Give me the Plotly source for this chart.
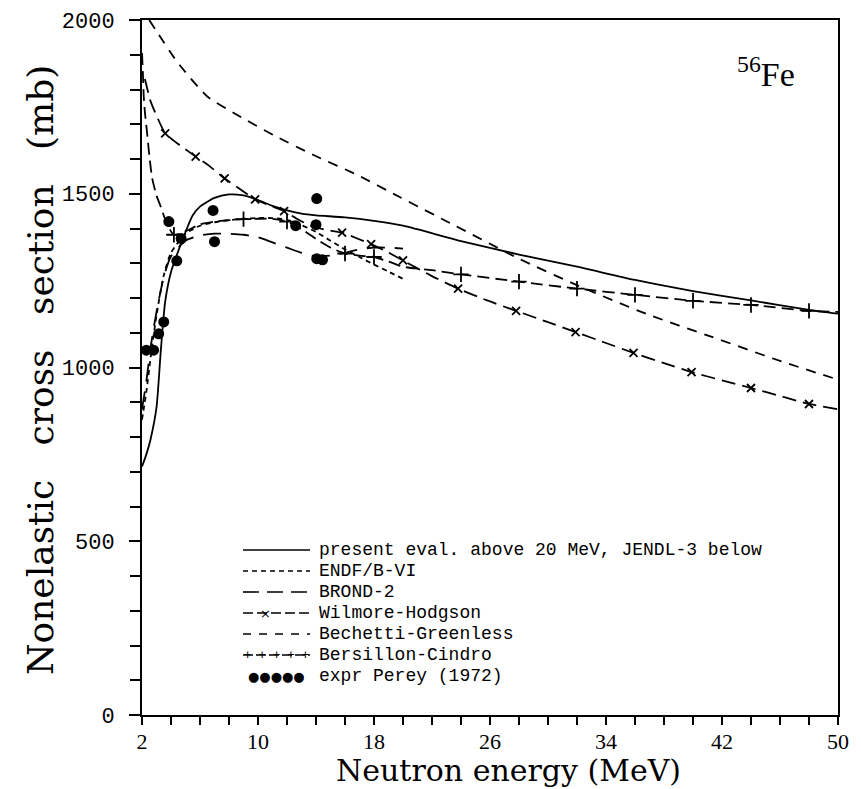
import plotly.graph_objects as go

# ---------------- data ----------------
E_present = [2.0, 2.3, 2.6, 3.0, 3.3, 3.6, 4.0, 4.5, 5.0, 5.5, 6.0, 7.0, 8.0, 9.0, 10.0, 11.0, 12.0,
             13.0, 14.0, 16.0, 18.0, 20.0, 24.0, 28.0, 32.0, 36.0, 40.0, 44.0, 48.0, 50.0]
S_present = [715, 750, 795, 885, 1050, 1190, 1275, 1335, 1390, 1438, 1463, 1488, 1498, 1495, 1482, 1465, 1452,
             1443, 1438, 1432, 1422, 1408, 1364, 1325, 1290, 1252, 1220, 1193, 1166, 1155]

E_endf = [2.0, 2.3, 2.6, 3.0, 3.5, 4.0, 5.0, 6.0, 7.0, 8.0, 9.0, 10.0, 11.0, 12.0, 13.0, 14.0, 15.0,
          16.0, 17.0, 18.0, 19.0, 20.0]
S_endf = [850, 930, 1030, 1150, 1265, 1330, 1385, 1408, 1418, 1424, 1428, 1430, 1430, 1425, 1410, 1390, 1365,
          1340, 1318, 1296, 1276, 1255]

E_brond = [2.0, 2.3, 2.6, 3.0, 3.5, 4.0, 5.0, 6.0, 7.0, 8.0, 9.0, 10.0, 11.0, 12.0, 13.0, 14.0, 15.0,
           16.0, 17.0, 18.0, 19.0, 20.0]
S_brond = [880, 960, 1060, 1160, 1260, 1320, 1365, 1380, 1385, 1385, 1382, 1375, 1360, 1345, 1330, 1320, 1322,
           1330, 1340, 1345, 1345, 1342]

E_wh = [2.2, 2.6, 3.0, 3.6, 4.6, 5.7, 6.7, 7.7, 8.8, 9.8, 10.8, 11.8, 12.8, 13.8, 14.8, 15.8, 16.8, 17.8,
        18.9, 20.0, 21.9, 23.8, 25.8, 27.8, 29.9, 31.9, 33.9, 35.9, 37.9, 39.9, 42.0, 44.0, 46.0, 48.0, 50.0]
S_wh = [1830, 1765, 1725, 1674, 1640, 1607, 1578, 1544, 1512, 1484, 1466, 1450, 1425, 1405, 1395, 1388, 1372, 1355,
        1333, 1308, 1265, 1227, 1193, 1163, 1132, 1102, 1072, 1042, 1014, 987, 963, 941, 918, 895, 880]
E_wh_marks = [3.6, 5.7, 7.7, 9.8, 11.8, 15.8, 17.8, 20.0, 23.8, 27.8, 31.9, 35.9, 39.9, 44.0, 48.0]

E_bg = [2.5, 3.0, 4.4, 6.5, 8.6, 11.1, 13.9, 16.9, 19.7, 23.6, 28.0, 32.1, 36.8, 41.3, 46.0, 50.0]
S_bg = [2000, 1968, 1881, 1780, 1726, 1668, 1610, 1553, 1492, 1408, 1313, 1235, 1154, 1088, 1019, 965]

E_bc = [2.0, 2.06, 2.12, 2.2, 2.35, 2.5, 2.7, 3.0, 3.3, 3.7, 4.2, 5.0, 6.0, 7.0, 8.0, 9.0, 10.0, 11.0,
        12.0, 13.0, 14.0, 15.0, 16.0, 17.0, 18.0, 19.0, 20.0, 22.0, 24.0, 28.0, 32.0, 36.0, 40.0, 44.0,
        48.0, 50.0]
S_bc = [1905, 1850, 1780, 1735, 1675, 1612, 1545, 1495, 1462, 1415, 1382, 1392, 1412, 1420, 1424, 1427, 1428, 1428,
        1420, 1398, 1370, 1345, 1328, 1322, 1318, 1305, 1290, 1280, 1268, 1247, 1227, 1209, 1192, 1180,
        1163, 1160]
E_bc_marks = [4.2, 9.0, 12.0, 16.0, 18.0, 24.0, 28.0, 32.0, 36.0, 40.0, 44.0, 48.0]

E_exp = [2.3, 2.8, 3.15, 3.5, 3.85, 4.4, 4.7, 6.9, 7.0, 12.6, 14.05, 14.0, 14.05, 14.45]
S_exp = [1050, 1050, 1097, 1131, 1420, 1307, 1371, 1452, 1362, 1408, 1486, 1411, 1313, 1310]

legend_labels = [
    "present eval. above 20 MeV, JENDL-3 below",
    "ENDF/B-VI",
    "BROND-2",
    "Wilmore-Hodgson",
    "Bechetti-Greenless",
    "Bersillon-Cindro",
    "expr Perey (1972)",
]

x_ticks = [2, 10, 18, 26, 34, 42, 50]
y_ticks = [0, 500, 1000, 1500, 2000]
x_title = "Neutron energy (MeV)"
y_title = "Nonelastic\u00a0\u00a0 cross\u00a0\u00a0 section\u00a0\u00a0 (mb)"

# ---------------- styles ----------------
LW = 1.8
dash_endf = "5px,4px"
dash_brond = "18px,10px"
dash_wh = "14px,7px"
dash_bg = "10px,8px"
dash_bc = "12px,6px"

fig = go.Figure()

def add_line(E, S, dash):
    fig.add_trace(go.Scatter(x=E, y=S, mode="lines", showlegend=False,
                             line=dict(color="black", width=LW, dash=dash, shape="spline", smoothing=0.6)))

add_line(E_present, S_present, "solid")
add_line(E_endf, S_endf, dash_endf)
add_line(E_brond, S_brond, dash_brond)
add_line(E_wh, S_wh, dash_wh)
add_line(E_bg, S_bg, dash_bg)
add_line(E_bc, S_bc, dash_bc)

wh_lookup = dict(zip(E_wh, S_wh))
fig.add_trace(go.Scatter(x=E_wh_marks, y=[wh_lookup[e] for e in E_wh_marks], mode="markers",
                         showlegend=False,
                         marker=dict(symbol="x-thin", size=8, line=dict(color="black", width=1.8))))
bc_lookup = dict(zip(E_bc, S_bc))
fig.add_trace(go.Scatter(x=E_bc_marks, y=[bc_lookup[e] for e in E_bc_marks], mode="markers",
                         showlegend=False,
                         marker=dict(symbol="cross-thin", size=11, line=dict(color="black", width=1.8))))

fig.add_trace(go.Scatter(x=E_exp, y=S_exp, mode="markers", showlegend=False,
                         marker=dict(symbol="circle", size=11, color="black")))

# ---------------- layout ----------------
L, R, T, B = 142, 23, 20, 74
W, H = 861, 789
pw, ph = W - L - R, H - T - B

def px2paper_x(px):
    return (px - L) / pw

def px2paper_y(py):
    return (H - B - py) / ph

annotations = []
shapes = []

# manual legend (sample + label)
row0, row_gap = 550, 21
sx0, sx1, tx = 243, 310, 318
legend_dashes = ["solid", dash_endf, "16px,8px", "10px,4px", "8px,8px", "10px,3px", None]
for i, (lab, dsh) in enumerate(zip(legend_labels, legend_dashes)):
    yy = px2paper_y(row0 + i * row_gap)
    annotations.append(dict(x=px2paper_x(tx), y=yy, xref="paper", yref="paper", text=lab,
                            showarrow=False, xanchor="left", yanchor="middle",
                            height=20, borderpad=0,
                            font=dict(family="Liberation Mono", size=18, color="black")))
    if dsh is not None:
        shapes.append(dict(type="line", xref="paper", yref="paper",
                           x0=px2paper_x(sx0), x1=px2paper_x(sx1), y0=yy, y1=yy,
                           line=dict(color="black", width=1.6, dash=dsh)))
# legend glyphs for markers
yy_wh = px2paper_y(row0 + 3 * row_gap)
yy_bc = px2paper_y(row0 + 5 * row_gap)
yy_ex = px2paper_y(row0 + 6 * row_gap)
annotations.append(dict(x=px2paper_x(sx0 + 22), y=yy_wh, xref="paper", yref="paper", text="×",
                        showarrow=False, xanchor="center", yanchor="middle", height=14, borderpad=0,
                        font=dict(family="DejaVu Sans", size=13, color="black")))
annotations.append(dict(x=px2paper_x((sx0 + sx1) / 2), y=yy_bc, xref="paper", yref="paper",
                        text="+ + + + +", showarrow=False, xanchor="center", yanchor="middle",
                        height=14, borderpad=0,
                        font=dict(family="DejaVu Sans Mono", size=12, color="black")))
annotations.append(dict(x=px2paper_x((sx0 + sx1) / 2), y=yy_ex, xref="paper", yref="paper",
                        text="●●●●●", showarrow=False, xanchor="center", yanchor="middle",
                        height=14, borderpad=0,
                        font=dict(family="DejaVu Sans", size=13, color="black")))

# isotope label
annotations.append(dict(x=px2paper_x(766), y=px2paper_y(72), xref="paper", yref="paper",
                        text="<sup>56</sup>Fe", showarrow=False, xanchor="center", yanchor="middle",
                        font=dict(family="Liberation Serif", size=34, color="black")))

# axis titles
annotations.append(dict(x=px2paper_x(509), y=px2paper_y(770), xref="paper", yref="paper",
                        text=x_title, showarrow=False, xanchor="center", yanchor="middle",
                        height=34, borderpad=0,
                        font=dict(family="DejaVu Serif", size=30, color="black")))
annotations.append(dict(x=px2paper_x(40), y=px2paper_y(370), xref="paper", yref="paper",
                        text=y_title, showarrow=False, xanchor="center", yanchor="middle",
                        textangle=-90,
                        font=dict(family="DejaVu Serif", size=36, color="black")))

fig.update_layout(
    width=W, height=H,
    margin=dict(l=L, r=R, t=T, b=B, autoexpand=False),
    paper_bgcolor="white", plot_bgcolor="white",
    showlegend=False,
    annotations=annotations,
    shapes=shapes,
    xaxis=dict(
        range=[2, 50], tickvals=x_ticks, ticktext=[str(v) for v in x_ticks],
        automargin=False,
        showgrid=False, zeroline=False, showline=True, linecolor="black", linewidth=2, mirror=True,
        ticks="outside", ticklen=6, tickwidth=1.5, tickcolor="black",
        minor=dict(tick0=2, dtick=2, ticks="outside", ticklen=8, tickwidth=1.5, tickcolor="black"),
        tickfont=dict(family="Liberation Serif", size=22, color="black"),
        ticklabelstandoff=0,
    ),
    yaxis=dict(
        range=[0, 2000], tickvals=y_ticks, ticktext=[str(v) for v in y_ticks],
        automargin=False,
        showgrid=False, zeroline=False, showline=True, linecolor="black", linewidth=2, mirror=True,
        ticks="outside", ticklen=11, tickwidth=1.5, tickcolor="black",
        minor=dict(dtick=100, ticks="outside", ticklen=10, tickwidth=1.5, tickcolor="black"),
        tickfont=dict(family="Liberation Mono", size=22, color="black"),
        ticklabelstandoff=10,
    ),
)

fig.write_html("out.html")
